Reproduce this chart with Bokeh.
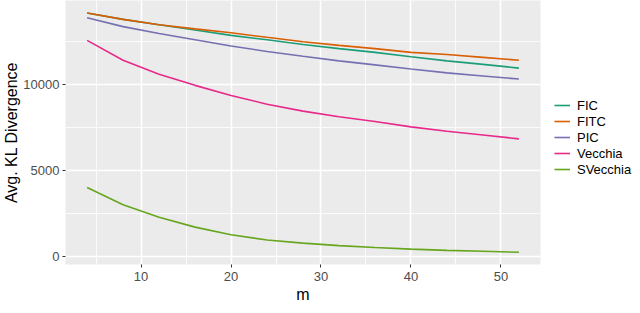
from bokeh.plotting import figure
from bokeh.models import (Range1d, SingleIntervalTicker, Legend, LegendItem,
                          NumeralTickFormatter)
from bokeh.embed import file_html
from bokeh.resources import INLINE

m = [4, 8, 12, 16, 20, 24, 28, 32, 36, 40, 44, 48, 52]
fic = [14135, 13770, 13460, 13150, 12840, 12585, 12310, 12075, 11857, 11600, 11365, 11163, 10945]
fitc = [14135, 13770, 13460, 13220, 12990, 12730, 12475, 12260, 12075, 11857, 11730, 11567, 11403]
pic = [13862, 13350, 12950, 12590, 12230, 11910, 11630, 11365, 11130, 10890, 10670, 10490, 10310]
vecchia = [12550, 11403, 10583, 9945, 9360, 8852, 8453, 8125, 7852, 7540, 7284, 7065, 6846]
svecchia = [4027, 3022, 2300, 1730, 1290, 984, 803, 656, 546, 455, 382, 328, 273]

series_names = ["FIC", "FITC", "PIC", "Vecchia", "SVecchia"]
series_values = [fic, fitc, pic, vecchia, svecchia]
colors = ["#1B9E77", "#D95F02", "#7570B3", "#E7298A", "#66A61E"]

FONT = "Liberation Sans"

p = figure(frame_width=475, frame_height=264, output_backend="svg",
           toolbar_location=None, min_border_left=57, min_border_top=0,
           min_border_bottom=33, min_border_right=92,
           x_range=Range1d(1.6, 54.4), y_range=Range1d(-437, 14863))

p.background_fill_color = "#EBEBEB"
p.border_fill_color = "white"
p.outline_line_color = None

items = []
for name, vals, col in zip(series_names, series_values, colors):
    r = p.line(m, vals, line_color=col, line_width=1.6)
    items.append(LegendItem(label=name, renderers=[r]))

p.xaxis.ticker = SingleIntervalTicker(interval=10, num_minor_ticks=2)
p.yaxis.ticker = SingleIntervalTicker(interval=5000, num_minor_ticks=2)
p.yaxis.formatter = NumeralTickFormatter(format="0")

for ax in (p.xaxis, p.yaxis):
    ax.axis_line_color = None
    ax.major_tick_line_color = "#333333"
    ax.major_tick_line_width = 1
    ax.major_tick_out = 3
    ax.major_tick_in = 0
    ax.minor_tick_line_color = None
    ax.major_label_text_font = FONT
    ax.major_label_text_font_size = "13px"
    ax.major_label_text_color = "#4D4D4D"
    ax.axis_label_text_font = FONT
    ax.axis_label_text_font_size = "16px"
    ax.axis_label_text_font_style = "normal"
    ax.axis_label_text_color = "black"

p.xaxis.axis_label = "m"
p.yaxis.axis_label = "Avg. KL Divergence"
p.xaxis.major_label_standoff = 3
p.yaxis.major_label_standoff = 2
p.xaxis.axis_label_standoff = 2
p.yaxis.axis_label_standoff = 0

p.xgrid.grid_line_color = "white"
p.ygrid.grid_line_color = "white"
p.xgrid.grid_line_width = 1.6
p.ygrid.grid_line_width = 1.6
p.xgrid.minor_grid_line_color = "white"
p.ygrid.minor_grid_line_color = "white"
p.xgrid.minor_grid_line_width = 0.8
p.ygrid.minor_grid_line_width = 0.8

legend = Legend(items=items, location=(14, 87))
legend.label_text_font = FONT
legend.label_text_font_size = "13px"
legend.label_text_color = "black"
legend.glyph_width = 16
legend.glyph_height = 16
legend.label_height = 16
legend.label_standoff = 7
legend.spacing = 0
legend.padding = 0
legend.margin = 0
legend.border_line_color = None
legend.background_fill_alpha = 0
legend.item_background_policy = "none"
p.add_layout(legend, "right")

open("out.html", "w").write(file_html(p, INLINE))
